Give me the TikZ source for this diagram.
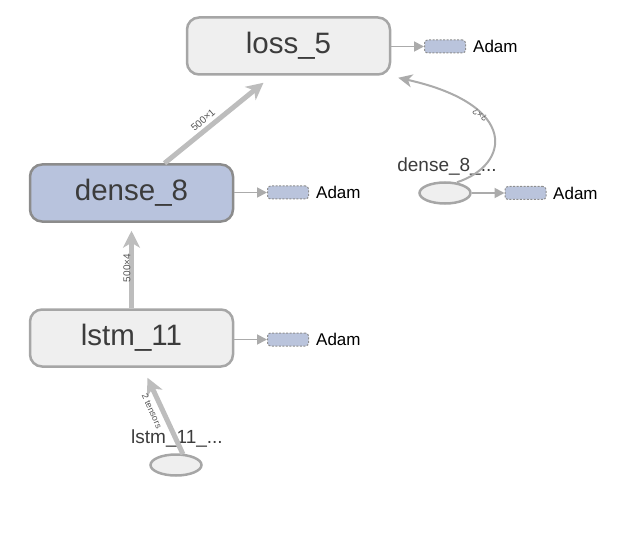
\documentclass[tikz,border=0pt]{standalone}
\usepackage{fontspec}
\setmainfont{Liberation Sans}
\usetikzlibrary{arrows.meta,calc,shapes.geometric}
\definecolor{boxfill}{HTML}{EFEFEF}
\definecolor{boxdraw}{HTML}{A6A6A6}
\definecolor{densefill}{HTML}{B8C3DD}
\definecolor{densedraw}{HTML}{8C8C8C}
\definecolor{adamfill}{HTML}{BAC4DC}
\definecolor{adamdraw}{HTML}{8E8E8E}
\definecolor{edgecol}{HTML}{BDBDBD}
\definecolor{thincol}{HTML}{ABABAB}
\definecolor{txt}{HTML}{3C3C3C}
\definecolor{lbl}{HTML}{555555}
\tikzset{
  opbox/.style={draw=boxdraw, fill=boxfill, line width=2.5pt, rounded corners=12pt,
    minimum width=203pt, minimum height=57pt, inner sep=0pt, text=txt,
    font=\fontsize{29.5}{34}\selectfont},
  adambox/.style={draw=adamdraw, fill=adamfill, dashed, dash pattern=on 2pt off 1.5pt,
    line width=1pt, rounded corners=3pt, minimum width=41pt, minimum height=13pt, inner sep=0pt},
  adamtext/.style={anchor=west, inner sep=0pt, text=black, font=\fontsize{17}{20}\selectfont},
  auxell/.style={ellipse, draw=boxdraw, fill=boxfill, line width=2.5pt,
    minimum width=51pt, minimum height=21pt, inner sep=0pt},
  auxtext/.style={inner sep=0pt, text=txt, font=\fontsize{19}{22}\selectfont},
  thickedge/.style={draw=edgecol, line width=5pt,
    -{Stealth[length=17pt,width=17pt,inset=5pt]}},
  thinedge/.style={draw=thincol, line width=1.8pt, -{Triangle[length=10pt,width=10pt]}},
  curveedge/.style={draw=thincol, line width=2pt, -{Stealth[length=14pt,width=13pt,inset=4pt]}},
  edgelbl/.style={inner sep=0pt, text=lbl, font=\fontsize{10}{12}\selectfont},
}
\begin{document}
\begin{tikzpicture}[x=1pt,y=-1pt]
\useasboundingbox (0,0) rectangle (620,537);
% operation nodes
\node[opbox] (loss) at (288.5,46) {loss\_5};
\node[opbox, fill=densefill, draw=densedraw] (dense) at (131.5,193) {dense\_8};
\node[opbox] (lstm) at (131.5,338) {lstm\_11};
% Adam nodes
\node[adambox] (a1) at (445,46.5) {};
\node[adamtext] (t1) at (473,46.5) {Adam};
\node[adambox] (a2) at (288,192.5) {};
\node[adamtext] (t2) at (316,192.5) {Adam};
\node[adambox] (a3) at (288,339.5) {};
\node[adamtext] (t3) at (316,339.5) {Adam};
\node[adambox] (a4) at (525.5,193) {};
\node[adamtext] (t4) at (553,193) {Adam};
% auxiliary ellipses
\node[auxell] (e1) at (445,193) {};
\node[auxtext] (l1) at (447,167) {dense\_8\_...};
\node[auxell] (e2) at (176,465) {};
\node[auxtext] (l2) at (177,438) {lstm\_11\_...};
% edges to Adam
\draw[thinedge] (loss.east |- a1) -- (a1.west);
\draw[thinedge] (dense.east |- a2) -- (a2.west);
\draw[thinedge] (lstm.east |- a3) -- (a3.west);
\draw[thinedge] (e1.east) -- (a4.west);
% main edges
\draw[thickedge] (lstm.north) -- ($(dense.south)+(0,8)$);
\node[edgelbl, rotate=90] (lb1) at (127,268) {500×4};
\draw[thickedge] ($(dense.north)+(33,0)$) -- ($(loss.south)+(-25,7)$);
\node[edgelbl, rotate=40.6] (lb2) at (203,120) {500×1};
\draw[thickedge] ($(e2.north)+(7,1)$) -- ($(lstm.south)+(16,10)$);
\node[edgelbl, rotate=-65.5, font=\fontsize{9}{11}\selectfont] (lb3) at (152,411) {2 tensors};
\coordinate (cstart) at ($(e1.north)+(12,1)$);
\coordinate (cend) at ($(loss.south east)+(7,2)$);
\draw[curveedge] (cstart) .. controls (510,165) and (520,105) .. (cend);
\node[edgelbl, rotate=149, font=\fontsize{9}{11}\selectfont] (lb4) at (480,115) {?×?};
\end{tikzpicture}
\end{document}
